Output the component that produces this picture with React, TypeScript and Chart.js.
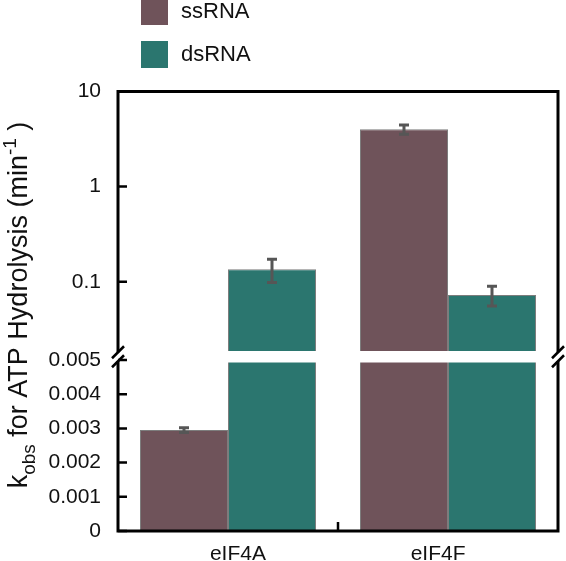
import React, { useEffect, useRef } from 'react';
import { Chart, registerables, Scale } from 'chart.js';

Chart.register(...registerables);

// ---- data ----
const CATEGORIES = ['eIF4A', 'eIF4F'];
const SERIES = ['ssRNA', 'dsRNA'];
const SS_VALUES = [0.00295, 4.0];
const SS_ERRORS = [0.00007, 0.45];
const DS_VALUES = [0.135, 0.0725];
const DS_ERRORS = [0.037, 0.017];
const LIN_TICKS = [0, 0.001, 0.002, 0.003, 0.004, 0.005];
const LOG_TICKS = [0.1, 1, 10];
const LIN_MAX = 0.005;
const LOG_MIN = 0.0187;
const LOG_MAX = 10;

// ---- styles ----
const COLORS = ['#6f535a', '#2b766f'];
const FONT = '"Liberation Sans", Arial, sans-serif';
const W_LOG = 259.5;
const W_GAP = 9;
const W_LIN = 171;

class BrokenScale extends Scale {
  static id = 'broken';
  static defaults = {};
  determineDataLimits() {
    this.min = 0;
    this.max = LOG_MAX;
  }
  buildTicks() {
    return [...LIN_TICKS, ...LOG_TICKS].map((value) => ({ value }));
  }
  getLabelForValue(v: number) {
    return String(v);
  }
  _sections() {
    const top = this.top;
    const bottom = this.bottom;
    const H = bottom - top;
    const total = W_LOG + W_GAP + W_LIN;
    const logBottom = top + (H * W_LOG) / total;
    const linTop = bottom - (H * W_LIN) / total;
    return { top, bottom, logBottom, linTop };
  }
  getPixelForValue(v: number) {
    if (v === null || v === undefined || isNaN(v)) return NaN;
    const { top, bottom, logBottom, linTop } = this._sections();
    if (v <= LIN_MAX) return bottom - (v / LIN_MAX) * (bottom - linTop);
    if (v >= LOG_MIN) {
      const f = (Math.log10(v) - Math.log10(LOG_MIN)) / (Math.log10(LOG_MAX) - Math.log10(LOG_MIN));
      return logBottom - f * (logBottom - top);
    }
    return (logBottom + linTop) / 2;
  }
  getValueForPixel(p: number) {
    const { top, bottom, logBottom, linTop } = this._sections();
    if (p >= linTop) return ((bottom - p) / (bottom - linTop)) * LIN_MAX;
    if (p <= logBottom) {
      const f = (logBottom - p) / (logBottom - top);
      return Math.pow(10, Math.log10(LOG_MIN) + f * (Math.log10(LOG_MAX) - Math.log10(LOG_MIN)));
    }
    return LIN_MAX;
  }
}
Chart.register(BrokenScale as any);

const overlayPlugin = {
  id: 'overlay',
  afterDatasetsDraw(chart: any) {
    const ctx: CanvasRenderingContext2D = chart.ctx;
    const { left, right, top, bottom } = chart.chartArea;
    const ys = chart.scales.y;
    const xs = chart.scales.x;
    const gapTop = ys.getPixelForValue(LOG_MIN);
    const linTop = ys.getPixelForValue(LIN_MAX);
    ctx.save();
    // white band of the axis break
    ctx.fillStyle = '#ffffff';
    ctx.fillRect(left, gapTop, right - left, linTop + 2.5 - gapTop);

    // error bars
    const errs = [SS_ERRORS, DS_ERRORS];
    const vals = [SS_VALUES, DS_VALUES];
    ctx.strokeStyle = '#565656';
    ctx.lineWidth = 3;
    ctx.lineCap = 'butt';
    for (let d = 0; d < 2; d++) {
      const meta = chart.getDatasetMeta(d);
      meta.data.forEach((bar: any, i: number) => {
        const v = vals[d][i];
        const e = errs[d][i];
        const yt = ys.getPixelForValue(v + e);
        const yb = ys.getPixelForValue(v - e);
        const x = bar.x;
        ctx.beginPath();
        ctx.moveTo(x, yt);
        ctx.lineTo(x, yb);
        ctx.moveTo(x - 5, yt);
        ctx.lineTo(x + 5, yt);
        ctx.moveTo(x - 5, yb);
        ctx.lineTo(x + 5, yb);
        ctx.stroke();
      });
    }

    // frame
    const gc = (gapTop + linTop + 2.5) / 2;
    const s1 = gc - 4.5;
    const s2 = gc + 4.5;
    ctx.strokeStyle = '#000';
    ctx.lineWidth = 3;
    ctx.beginPath();
    ctx.moveTo(left - 1.5, top);
    ctx.lineTo(right + 1.5, top);
    ctx.moveTo(left - 1.5, bottom);
    ctx.lineTo(right + 1.5, bottom);
    ctx.moveTo(left, top);
    ctx.lineTo(left, s1);
    ctx.moveTo(left, s2);
    ctx.lineTo(left, bottom);
    ctx.moveTo(right, top);
    ctx.lineTo(right, s1);
    ctx.moveTo(right, s2);
    ctx.lineTo(right, bottom);
    ctx.stroke();

    // break marks
    ctx.lineWidth = 2.5;
    ctx.beginPath();
    for (const ax of [left, right]) {
      for (const sy of [s1, s2]) {
        ctx.moveTo(ax - 6, sy + 6);
        ctx.lineTo(ax + 6, sy - 6);
      }
    }
    ctx.stroke();

    // y tick marks (inward)
    ctx.lineWidth = 2.5;
    ctx.beginPath();
    for (const t of [...LIN_TICKS, ...LOG_TICKS]) {
      const py = ys.getPixelForValue(t);
      ctx.moveTo(left, py);
      ctx.lineTo(left + 9, py);
    }
    // x tick between categories
    const mid = (xs.getPixelForValue(0) + xs.getPixelForValue(1)) / 2;
    ctx.moveTo(mid, bottom);
    ctx.lineTo(mid, bottom - 9);
    ctx.stroke();

    // x labels
    ctx.fillStyle = '#111';
    ctx.font = `21px ${FONT}`;
    ctx.textAlign = 'center';
    ctx.textBaseline = 'alphabetic';
    CATEGORIES.forEach((c, i) => {
      const cx = xs.getPixelForValue(i);
      const lx = mid + (cx - mid) * 0.91;
      ctx.fillText(c, lx, 559.5);
    });

    // legend
    ctx.textAlign = 'left';
    ctx.textBaseline = 'middle';
    ctx.font = `22px ${FONT}`;
    SERIES.forEach((s, i) => {
      const by = -2 + i * 43;
      ctx.fillStyle = COLORS[i];
      ctx.fillRect(141, by, 27, 27);
      ctx.fillStyle = '#111';
      ctx.fillText(s, 181, by + 14);
    });

    // y title with sub/superscripts
    const big = `27px ${FONT}`;
    const small = `19px ${FONT}`;
    const parts: [string, string, number][] = [
      ['k', big, 0],
      ['obs', small, 8],
      [' for ATP Hydrolysis (min', big, 0],
      ['-1', small, -11],
      [' )', big, 0],
    ];
    let total = 0;
    for (const [t, f] of parts) {
      ctx.font = f;
      total += ctx.measureText(t).width;
    }
    ctx.translate(27, 305);
    ctx.rotate(-Math.PI / 2);
    ctx.textBaseline = 'alphabetic';
    ctx.textAlign = 'left';
    let px = -total / 2;
    for (const [t, f, dy] of parts) {
      ctx.font = f;
      ctx.fillText(t, px, dy);
      px += ctx.measureText(t).width;
    }
    ctx.restore();
  },
};

export default function App() {
  const ref = useRef<HTMLCanvasElement>(null);
  useEffect(() => {
    const chart = new Chart(ref.current as HTMLCanvasElement, {
      type: 'bar',
      data: {
        labels: CATEGORIES,
        datasets: [
          {
            label: SERIES[0],
            data: SS_VALUES,
            backgroundColor: COLORS[0],
            borderColor: 'rgba(70,70,70,0.7)',
            borderWidth: 1,
            categoryPercentage: 0.8,
            barPercentage: 1.0,
          },
          {
            label: SERIES[1],
            data: DS_VALUES,
            backgroundColor: COLORS[1],
            borderColor: 'rgba(70,70,70,0.7)',
            borderWidth: 1,
            categoryPercentage: 0.8,
            barPercentage: 1.0,
          },
        ],
      },
      options: {
        responsive: false,
        maintainAspectRatio: false,
        animation: false,
        devicePixelRatio: 1,
        layout: { padding: { left: 30, right: 8, top: 91.5, bottom: 30 } },
        plugins: { legend: { display: false }, tooltip: { enabled: false } },
        scales: {
          x: { type: 'category', display: false },
          y: {
            type: 'broken',
            position: 'left',
            grid: { display: false, drawTicks: false },
            border: { display: false },
            ticks: {
              autoSkip: false,
              padding: 17,
              color: '#111',
              font: { family: FONT, size: 21 },
            },
            afterFit: (s: any) => {
              s.width = 88;
            },
          } as any,
        },
      },
      plugins: [overlayPlugin],
    } as any);
    return () => chart.destroy();
  }, []);
  return (
    <div style={{ position: 'absolute', left: 0, top: 0, width: 566, height: 561, background: '#fff' }}>
      <canvas ref={ref} width={566} height={561} style={{ display: 'block' }} />
    </div>
  );
}
